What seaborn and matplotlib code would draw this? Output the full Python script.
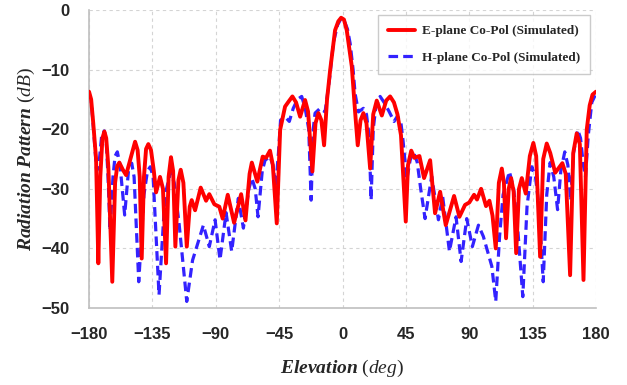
import pandas as pd
import matplotlib
matplotlib.use("Agg")
import matplotlib.pyplot as plt
import seaborn as sns

# E-plane co-pol (red, solid)
e_angle = [-180, -178.5, -177, -175, -173.4, -172, -170.5, -169.1, -167.8, -166.3,
           -163.5, -161.5, -160, -158.5, -156, -153.7, -150, -147.3, -145.5, -144,
           -142.6, -141, -139.5, -137.9, -136, -134, -132.4, -129.6, -127.5, -125.3,
           -123.5, -121.8, -120.3, -118.7, -116.5, -114.9, -113, -110.6, -108.5, -107.1,
           -104.7, -100.7, -96.9, -94.6, -91.0, -87.5, -85.1, -81.5, -77.0, -72.0,
           -68.9, -66, -64.4, -60.5, -56.7, -54.3, -51.5, -49.5, -46.7, -44.3,
           -40.8, -38.4, -35.6, -33, -30.1, -26.6, -24.5, -21.4, -19.2, -17.1,
           -15, -13.1, -11, -8.8, -5.3, -3, -1.0, 1, 3.0, 6.6,
           8.9, 10.8, 12.8, 14.8, 17, 19.6, 21.8, 24.3, 27.9, 31,
           33.8, 36.5, 39, 41.5, 44.9, 46.5, 48.8, 51, 54.6, 57.9,
           62.2, 65.7, 69.3, 73.3, 79.2, 83.0, 87.0, 90, 93.4, 95.5,
           98.4, 101.9, 104.3, 106.5, 108.8, 111, 113.1, 114.6, 116.1, 118,
           119.7, 121.5, 123.3, 125.3, 127.3, 130.1, 133, 135.5, 137.5, 140.3,
           142.5, 145.0, 147.5, 151.0, 156.1, 158.5, 161.6, 163.8, 166.3, 168.5,
           171.1, 173.4, 175.5, 177.5, 180]
e_db = [-13.7, -15.0, -19.0, -25, -42.5, -28, -21.5, -20.4, -21.5, -26.3,
        -45.6, -29, -26.2, -25.6, -26.8, -27.7, -24.5, -22.1, -23.5, -28,
        -41.7, -28, -23.3, -22.5, -23.5, -27, -30.6, -28.0, -30, -42.5,
        -28, -24.7, -27, -39.7, -28.5, -26.8, -29, -39.7, -33, -31.9,
        -33.6, -29.8, -32.0, -30.9, -32.6, -33.0, -35.0, -31.0, -35.7, -30.9,
        -35.3, -27.5, -25.6, -28.8, -24.6, -24.8, -23.6, -26, -35.8, -20.1,
        -16.2, -15.4, -14.5, -15.5, -17.9, -15.1, -17, -27.1, -19, -17.3,
        -18.5, -22.7, -15, -10.1, -3.4, -1.9, -1.3, -1.6, -3.4, -9.5,
        -17, -22.7, -18.5, -17.3, -19, -26.6, -17.5, -15.2, -17.7, -15.2,
        -14.5, -15.5, -17.5, -21, -35.5, -26, -23.6, -24.8, -24.5, -28.2,
        -25.2, -34.1, -30.5, -36.1, -31.2, -34.7, -32.7, -32.3, -31.0, -31.8,
        -30.0, -32.9, -32.0, -34.5, -40.0, -29, -26.6, -29, -38.3, -30,
        -28.2, -30.5, -40.8, -30, -28.2, -30.8, -24.5, -22.3, -24.5, -41.4,
        -25, -22.4, -24, -27.3, -25.7, -27.5, -44.5, -24, -20.7, -22.5,
        -45.3, -20.1, -16, -14.2, -13.7]

# H-plane co-pol (blue, dashed)
h_angle = [-180, -178, -176.5, -174.6, -173, -171, -169.2, -167.8, -166.5, -165.1,
           -163, -161.5, -159.9, -158, -154.7, -152, -149.7, -148, -144.7, -141,
           -138.5, -136.5, -134.5, -130.3, -126, -122, -119.5, -116, -110.6, -106.5,
           -103.5, -98.8, -94.6, -90.5, -87.0, -82.7, -78.7, -74.0, -70.4, -66.5,
           -64.4, -62, -60.0, -57, -55, -51.5, -49.5, -47.5, -45.5, -44,
           -40.8, -37.8, -35, -32, -29.0, -26.5, -24, -22.3, -20.8, -19.5,
           -15.9, -12.4, -9.3, -6.5, -3.5, -1.0, 1.2, 3.5, 5.4, 7.5,
           8.9, 11.3, 14.8, 17, 18.8, 20.3, 21.8, 23.5, 26.7, 29.5,
           33, 36.6, 39, 41.5, 43, 45.6, 48, 50.3, 53, 55.5,
           58.6, 63.3, 68.1, 71.1, 75.9, 80.6, 84.2, 88.2, 92.2, 96.5,
           100, 103, 106, 108.8, 111.5, 114, 118.5, 121.5, 124.5, 128.0,
           131, 134.4, 137, 139.5, 142.5, 145, 147.4, 150, 152.7, 155,
           157.8, 160, 162, 164, 167, 169, 171, 172.5, 174.5, 177,
           180]
h_db = [-14, -16.5, -21, -27, -26, -21, -20.3, -22, -28, -37,
        -28, -24.5, -23.8, -26, -34.4, -27, -25.7, -28, -45.6, -31,
        -27, -26.3, -28, -47.8, -31, -27.1, -29, -36, -48.9, -42,
        -39.7, -36.1, -39.7, -35.2, -41.9, -34.0, -40.5, -31.6, -36.6, -30,
        -28.2, -30, -34.7, -27, -25.2, -24.6, -26, -29.6, -24, -18.5,
        -17.9, -18.7, -16.5, -15, -14.5, -16.5, -20, -31.9, -20, -17.3,
        -16.5, -17.1, -11.7, -5.5, -2.5, -1.4, -1.8, -3.2, -5.6, -10,
        -14, -17.1, -16.5, -17.5, -21, -31.9, -20, -16.5, -14.5, -15.5,
        -17, -18.7, -17.8, -19, -22, -28.5, -25.2, -23.8, -25.5, -30,
        -35.0, -27.9, -35.2, -31.3, -40.5, -34.7, -42.2, -35.0, -39.7, -36.1,
        -38, -40.5, -43, -48.9, -38, -31, -27.1, -30, -37, -48.1,
        -33, -26.3, -28, -33, -45.6, -31, -25.6, -28, -33.5, -27,
        -23.8, -26, -32, -24, -20.1, -21.5, -26, -28, -21, -15.5,
        -14]

x_ticks = [-180, -135, -90, -45, 0, 45, 90, 135, 180]
y_ticks = [0, -10, -20, -30, -40, -50]

e_df = pd.DataFrame({"Elevation": e_angle, "dB": e_db})
h_df = pd.DataFrame({"Elevation": h_angle, "dB": h_db})

sns.set_style("white")
plt.rcParams["mathtext.fontset"] = "custom"
plt.rcParams["mathtext.rm"] = "Liberation Serif"
plt.rcParams["mathtext.it"] = "Liberation Serif:italic"
plt.rcParams["mathtext.bf"] = "Liberation Serif:bold"
plt.rcParams["mathtext.bfit"] = "Liberation Serif:italic:bold"

fig = plt.figure(figsize=(6.27, 3.85), dpi=100)
ax = fig.add_axes([0.142, 0.2, 0.8086, 0.774])

sns.lineplot(data=h_df, x="Elevation", y="dB", ax=ax, color="#3322ff", lw=2.3,
             linestyle=(0, (3, 1.6)), estimator=None, sort=False, zorder=2,
             label="H-plane Co-Pol (Simulated)")
sns.lineplot(data=e_df, x="Elevation", y="dB", ax=ax, color="#ff0000", lw=2.8,
             estimator=None, sort=False, zorder=3,
             label="E-plane Co-Pol (Simulated)")

ax.set_xlim(-180, 180)
ax.set_ylim(-50, 0)
ax.set_xticks(x_ticks)
ax.set_yticks(y_ticks)
ax.grid(True, color="#d4d4d4", linestyle=(0, (3, 3)), lw=0.8)
for s in ["top", "right"]:
    ax.spines[s].set_visible(False)
for s in ["left", "bottom"]:
    ax.spines[s].set_color("#bfbfbf")
    ax.spines[s].set_linewidth(1.2)
ax.tick_params(length=0, pad=14)
for lab in ax.get_xticklabels() + ax.get_yticklabels():
    lab.set_fontfamily("Liberation Sans")
    lab.set_fontweight("bold")
    lab.set_fontsize(12)

ax.set_xlabel(r"$\mathbfit{Elevation}\ \mathit{(deg)}$", fontsize=14, labelpad=11)
ax.set_ylabel(r"$\mathbfit{Radiation\ Pattern}\ \mathit{(dB)}$", fontsize=14, labelpad=3)

handles, labels = ax.get_legend_handles_labels()
leg = ax.legend(handles[::-1], labels[::-1], loc="upper right",
                bbox_to_anchor=(0.988, 0.983), borderaxespad=0, frameon=True,
                fancybox=False, edgecolor="#bfbfbf", handlelength=2.0,
                handletextpad=0.55, labelspacing=1.1, borderpad=0.75,
                prop={"family": "Liberation Serif", "weight": "bold", "size": 9.5})
leg.get_frame().set_linewidth(1.0)

fig.savefig("out.png", dpi=100)
